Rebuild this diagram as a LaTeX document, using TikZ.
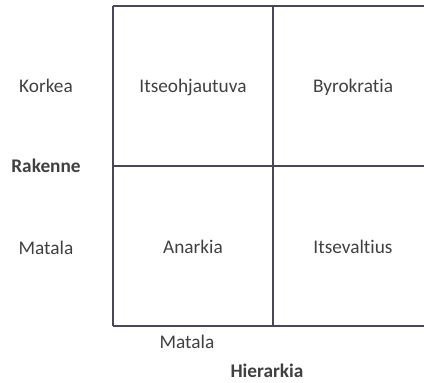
\documentclass[tikz,border=0pt]{standalone}
\usepackage{fontspec}
\setmainfont[Ligatures=NoCommon]{Carlito}
\definecolor{gridline}{HTML}{4A4558}
\definecolor{txt}{HTML}{404040}
\begin{document}
\begin{tikzpicture}[x=1pt,y=-1pt,
  lbl/.style={text=txt,font=\fontsize{19.3}{23}\selectfont,inner sep=0pt,anchor=center},
  bold/.style={lbl,font=\fontsize{19.3}{23}\selectfont\bfseries},
  gl/.style={draw=gridline,line width=2pt}]
\useasboundingbox (0,0) rectangle (424,383);
\coordinate (tl) at (113,6);
\coordinate (tm) at (273,6);
\coordinate (tr) at (424,6);
\coordinate (ml) at (113,166);
\coordinate (mm) at (273,166);
\coordinate (mr) at (424,166);
\coordinate (bl) at (113,326);
\coordinate (bm) at (273,326);
\coordinate (br) at (424,326);
\draw[gl] (tl) -- (tr);
\draw[gl] (ml) -- (mr);
\draw[gl] (bl) -- (br);
\draw[gl] (tl) -- (bl);
\draw[gl] (tm) -- (bm);
\node[lbl] (korkea) at (46,86) {Korkea};
\node[bold] (rakenne) at (46,166) {Rakenne};
\node[lbl] (matalaL) at (46,248) {Matala};
\node[lbl] (c1) at (193,87) {Itseohjautuva};
\node[lbl] (c2) at (353,87) {Byrokratia};
\node[lbl] (c3) at (193,247) {Anarkia};
\node[lbl] (c4) at (353,247) {Itsevaltius};
\node[lbl] (matalaB) at (187,342) {Matala};
\node[bold,anchor=base] (hier) at (267,377) {Hierarkia};
\end{tikzpicture}
\end{document}
